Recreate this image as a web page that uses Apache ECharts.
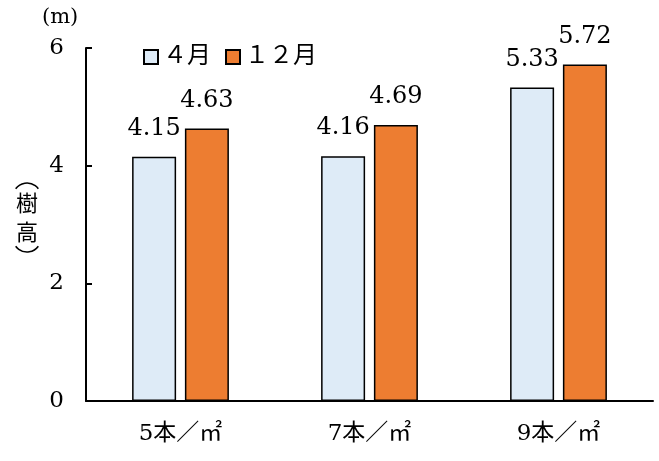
<!DOCTYPE html>
<html>
<head>
<meta charset="utf-8">
<script src="https://cdn.jsdelivr.net/npm/echarts@6/dist/echarts.min.js"></script>
<style>
  html, body { margin: 0; padding: 0; background: #fff; }
  #chart { width: 659px; height: 461px; }
</style>
</head>
<body>
<div id="chart"></div>
<script>
// Tree height by planting density, April vs December
const categories = ['5本／㎡', '7本／㎡', '9本／㎡'];
const seriesNames = ['４月', '１２月'];
const aprilHeights = [4.15, 4.16, 5.33];
const decemberHeights = [4.63, 4.69, 5.72];
const yTicks = [0, 2, 4, 6];

const serif = '"DejaVu Serif", "Liberation Serif", "Noto Sans CJK JP", serif';
const cjk = '"DejaVu Serif", "Noto Sans CJK JP", serif';

const chart = echarts.init(document.getElementById('chart'), null, { renderer: 'canvas' });

function barSeries(name, values, color) {
  return {
    name: name,
    type: 'bar',
    data: values,
    barWidth: 44,
    barGap: '20%',
    itemStyle: { color: color, borderColor: '#000', borderWidth: 1.5 },
    label: {
      show: true,
      position: 'top',
      distance: 16,
      color: '#000',
      fontFamily: serif,
      fontSize: 24,
      formatter: p => p.value.toFixed(2)
    }
  };
}

// Vertical axis title: upright characters between sideways parentheses
const titleX = 27;
const parenStyle = { fill: 'none', stroke: '#000', lineWidth: 1.6 };
const axisTitle = [
  { type: 'arc', shape: { cx: titleX, cy: 197, r: 14, startAngle: Math.PI * 1.2, endAngle: Math.PI * 1.8 }, style: parenStyle },
  { type: 'text', x: titleX, y: 203,
    style: { text: '樹', font: '22px "Noto Sans CJK JP", sans-serif', fill: '#000', align: 'center', verticalAlign: 'middle' } },
  { type: 'text', x: titleX, y: 232,
    style: { text: '高', font: '22px "Noto Sans CJK JP", sans-serif', fill: '#000', align: 'center', verticalAlign: 'middle' } },
  { type: 'arc', shape: { cx: titleX, cy: 238, r: 14, startAngle: Math.PI * 0.2, endAngle: Math.PI * 0.8 }, style: parenStyle }
];

chart.setOption({
  animation: false,
  backgroundColor: '#fff',
  grid: { left: 86, right: 6, top: 48, bottom: 60 },
  legend: {
    data: seriesNames,
    left: 138,
    top: 40,
    icon: 'rect',
    itemWidth: 14,
    itemHeight: 14,
    itemGap: 14,
    textStyle: { fontFamily: cjk, fontSize: 24, color: '#000' }
  },
  xAxis: {
    type: 'category',
    data: categories,
    axisLine: { lineStyle: { color: '#000', width: 2 } },
    axisTick: { show: false },
    axisLabel: { color: '#000', fontFamily: cjk, fontSize: 23, margin: 22 }
  },
  yAxis: {
    type: 'value',
    min: yTicks[0],
    max: yTicks[yTicks.length - 1],
    interval: 2,
    splitLine: { show: false },
    axisLine: { show: true, lineStyle: { color: '#000', width: 2 } },
    axisTick: { show: true, inside: true, length: 6, lineStyle: { color: '#000', width: 2 } },
    axisLabel: { color: '#000', fontFamily: serif, fontSize: 23, margin: 22 }
  },
  graphic: [
    {
      type: 'text',
      left: 42,
      top: 7,
      style: { text: '(m)', font: '21px "DejaVu Serif", serif', fill: '#000' }
    }
  ].concat(axisTitle),
  series: [
    barSeries(seriesNames[0], aprilHeights, '#DEEBF7'),
    barSeries(seriesNames[1], decemberHeights, '#ED7D31')
  ]
});
</script>
</body>
</html>
